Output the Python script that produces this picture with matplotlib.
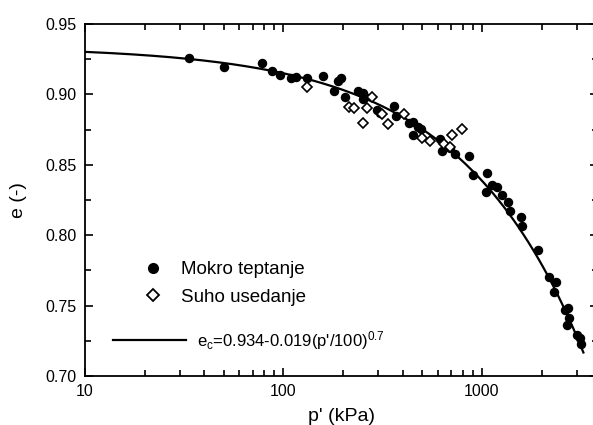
import matplotlib

matplotlib.use("Agg")

import matplotlib.pyplot as plt
import numpy as np
from matplotlib.lines import Line2D
from matplotlib.ticker import FixedLocator, LogLocator, MultipleLocator, NullFormatter

plt.rcParams["font.family"] = ["Liberation Sans", "DejaVu Sans"]
plt.rcParams["mathtext.fontset"] = "custom"
plt.rcParams["mathtext.rm"] = "Liberation Sans"
plt.rcParams["mathtext.default"] = "regular"

# wet tamping (filled dots)
wet_p = [33.5, 50.1, 77.6, 88.0, 96.0, 108.7, 116.3, 130.9, 158.7, 188.8,
         194.2, 180.3, 204.1, 238.2, 252.4, 257.4, 252.4, 294.9, 306.4, 360.5,
         368.9, 430.4, 450.8, 477.7, 447.7, 491.1, 614.4, 626.6, 690.0, 731.1,
         863.0, 904.0, 1056, 1047, 1119, 1186, 1257, 1357, 1384, 1567,
         1603, 1921, 2183, 2360, 2306, 2619, 2721, 2754, 2690, 3000,
         3117, 3153]
wet_e = [0.9255, 0.9197, 0.9221, 0.9163, 0.9138, 0.9119, 0.9126, 0.9119, 0.9129, 0.9095,
         0.9114, 0.9026, 0.8979, 0.9024, 0.9012, 0.8979, 0.8965, 0.8889, 0.8870, 0.8918,
         0.8847, 0.8799, 0.8806, 0.8771, 0.8712, 0.8752, 0.8681, 0.8600, 0.8617, 0.8577,
         0.8563, 0.8428, 0.8440, 0.8309, 0.8357, 0.8344, 0.8286, 0.8238, 0.8172, 0.8131,
         0.8068, 0.7895, 0.7705, 0.7670, 0.7599, 0.7469, 0.7481, 0.7410, 0.7362, 0.7291,
         0.7272, 0.7225]

# dry deposition (open diamonds)
dry_p = [130.9, 214.6, 226.6, 250.6, 264.4, 278.3, 312.4, 338.0, 404.6, 501.4,
         547.1, 643.6, 690.0, 710.3, 790.4]
dry_e = [0.9053, 0.8913, 0.8901, 0.8797, 0.8901, 0.8982, 0.8864, 0.8790, 0.8864, 0.8690,
         0.8669, 0.8648, 0.8623, 0.8712, 0.8751]

# critical state line e_c = 0.934 - 0.019 (p'/100)^0.7
csl_p = np.logspace(1, np.log10(3250), 200)
csl_e = 0.934 - 0.019 * (csl_p / 100) ** 0.7

fig = plt.figure(figsize=(5.93, 4.25), dpi=100)
ax = fig.add_axes([85 / 593, 49 / 425, 513 / 593, 352 / 425])

ax.plot(csl_p, csl_e, color="black", linewidth=1.6, zorder=2)
ax.plot(wet_p, wet_e, "o", color="black", markersize=5.8, zorder=3)
ax.plot(dry_p, dry_e, "D", markerfacecolor="white", markeredgecolor="black",
        markersize=5.2, markeredgewidth=1.2, zorder=4)

ax.set_xscale("log")
ax.set_xlim(10, 3850)
ax.set_ylim(0.70, 0.95)
ax.xaxis.set_major_locator(FixedLocator([10, 100, 1000]))
ax.xaxis.set_major_formatter(plt.FuncFormatter(lambda v, _: f"{v:.0f}"))
ax.xaxis.set_minor_locator(LogLocator(base=10, subs=np.arange(2, 10)))
ax.xaxis.set_minor_formatter(NullFormatter())
ax.yaxis.set_major_locator(MultipleLocator(0.05))
ax.yaxis.set_minor_locator(MultipleLocator(0.025))
ax.yaxis.set_major_formatter(plt.FuncFormatter(lambda v, _: f"{v:.2f}"))

ax.tick_params(which="both", direction="in", top=True, right=True, width=1.2,
               labelsize=11.5, pad=6)
ax.tick_params(which="major", length=6)
ax.tick_params(which="minor", length=4)
for spine in ax.spines.values():
    spine.set_linewidth(1.3)

ax.set_xlabel("p' (kPa)", fontsize=14, labelpad=6)
ax.set_ylabel("e (-)", fontsize=14, labelpad=13)

marker_handles = [
    Line2D([], [], linestyle="none", marker="o", color="black", markersize=7),
    Line2D([], [], linestyle="none", marker="D", markerfacecolor="white",
           markeredgecolor="black", markersize=6.5, markeredgewidth=1.3),
]
leg1 = ax.legend(marker_handles, ["Mokro teptanje", "Suho usedanje"],
                 loc="center left", bbox_to_anchor=(0.114, 0.263), frameon=False,
                 fontsize=13.5, handlelength=1.0, handletextpad=1.0,
                 labelspacing=0.55, borderpad=0, borderaxespad=0)
ax.add_artist(leg1)

line_handle = [Line2D([], [], color="black", linewidth=1.6)]
ax.legend(line_handle, [r"e$_{c}$=0.934-0.019(p'/100)$^{0.7}$"],
          loc="center left", bbox_to_anchor=(0.054, 0.102), frameon=False,
          fontsize=12, handlelength=4.4, handletextpad=0.65,
          borderpad=0, borderaxespad=0)

fig.savefig("out.png", dpi=100)
